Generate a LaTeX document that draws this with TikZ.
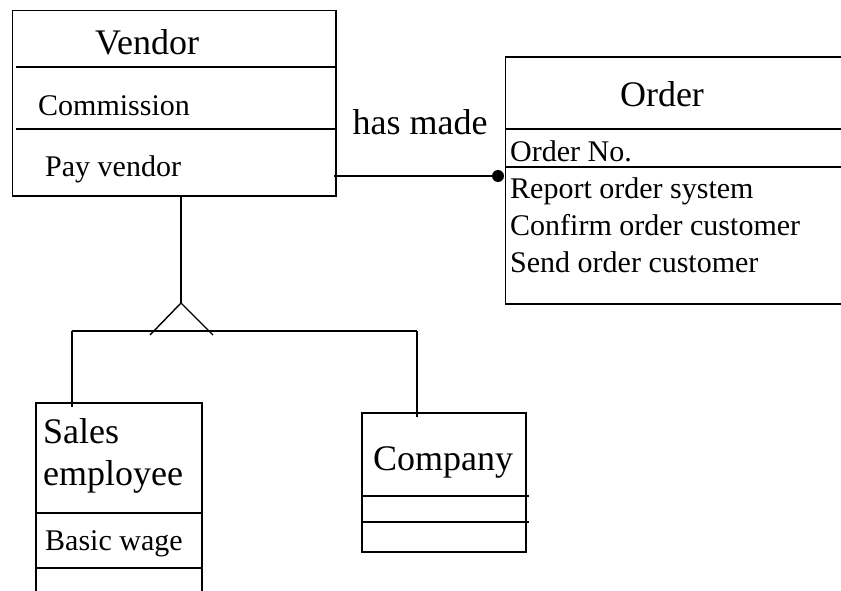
\documentclass[tikz,border=0pt]{standalone}
\usepackage{fontspec}
\setmainfont{Liberation Serif}
\begin{document}
\begin{tikzpicture}[x=1pt,y=-1pt,
  box/.style={draw,line width=1.4pt,rectangle,inner sep=0pt},
  sep/.style={line width=1.4pt},
  ln/.style={line width=1.4pt},
  big/.style={font=\fontsize{36}{42}\selectfont,inner sep=0pt},
  small/.style={font=\fontsize{30}{37}\selectfont,inner sep=0pt}]
\useasboundingbox (0,0) rectangle (841,591);
\clip (0,0) rectangle (841,591);
% boxes
\node[box,minimum width=323.3pt,minimum height=185.3pt] (vendor) at (174.35,103.35) {};
\node[box,minimum width=360pt,minimum height=247pt] (order) at (685.7,180.5) {};
\node[box,minimum width=166pt,minimum height=217pt] (sales) at (119,511.5) {};
\node[box,minimum width=164pt,minimum height=139pt] (company) at (444,482.5) {};
% compartments
\draw[sep] ([xshift=4pt]vendor.west |- 0,67) -- (vendor.east |- 0,67);
\draw[sep] ([xshift=4pt]vendor.west |- 0,129) -- (vendor.east |- 0,129);
\draw[sep] (order.west |- 0,129) -- (order.east |- 0,129);
\draw[sep] (order.west |- 0,167) -- (order.east |- 0,167);
\draw[sep] (sales.west |- 0,513) -- (sales.east |- 0,513);
\draw[sep] (sales.west |- 0,568) -- (sales.east |- 0,568);
\draw[sep] (company.west |- 0,496) -- ([xshift=2pt]company.east |- 0,496);
\draw[sep] (company.west |- 0,522) -- ([xshift=2pt]company.east |- 0,522);
% texts
\node[big,anchor=base] (tv) at (147,55) {Vendor};
\node[small,anchor=base west] (tc) at (38,116) {Commission};
\node[small,anchor=base west] (tp) at (45,176) {Pay vendor};
\node[big,anchor=base] (tm) at (420,135) {has made};
\node[big,anchor=base] (to) at (662,107) {Order};
\node[small,anchor=base west] (o1) at (510,162) {Order No.};
\node[small,anchor=base west] (o2) at (510,198) {Report order system};
\node[small,anchor=base west] (o3) at (510,235) {Confirm order customer};
\node[small,anchor=base west] (o4) at (510,272) {Send order customer};
\node[big,anchor=base west] (s1) at (43,443) {Sales};
\node[big,anchor=base west] (s2) at (43,485) {employee};
\node[small,anchor=base west] (s3) at (45,550) {Basic wage};
\node[big,anchor=base] (tco) at (443,470) {Company};
% association
\node[circle,fill,inner sep=0pt,minimum size=12pt] (dot) at (498,176) {};
\draw[ln] ([xshift=-3pt]vendor.east |- dot) -- (dot);
% generalization
\coordinate (apex) at (181,303);
\coordinate (legl) at (150,335);
\coordinate (legr) at (213,335);
\coordinate (hl) at (72,331);
\coordinate (hr) at (417,331);
\draw[ln] (apex |- vendor.south) -- (apex);
\draw[ln] (legl) -- (apex) -- (legr);
\draw[ln] (hl) -- (hr);
\draw[ln] (hl) -- ([yshift=-5pt]hl |- sales.north);
\draw[ln] (hr) -- ([yshift=-5pt]hr |- company.north);
\end{tikzpicture}
\end{document}
